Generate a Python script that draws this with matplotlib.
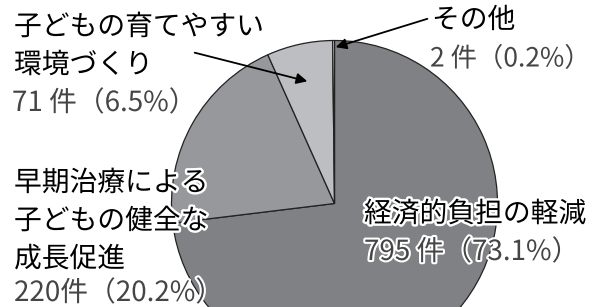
import matplotlib
matplotlib.use("Agg")
import matplotlib.pyplot as plt
import matplotlib.patheffects as pe

plt.rcParams['font.family'] = ['Noto Sans CJK JP', 'DejaVu Sans']

# データ
項目 = ["経済的負担の軽減", "早期治療による\n子どもの健全な\n成長促進", "子どもの育てやすい\n環境づくり", "その他"]
件数 = [795, 220, 71, 2]
割合 = [73.1, 20.2, 6.5, 0.2]
色 = ["#808185", "#97989c", "#bdbec2", "#ececec"]

W, H = 595, 307
fig = plt.figure(figsize=(W / 100, H / 100), dpi=100)
ax = fig.add_axes([0, 0, 1, 1])

# 円グラフ（時計回り、12時スタート）
ax.pie(件数, colors=色, startangle=90, counterclock=False,
       center=(334.5, 103.5), radius=163,
       wedgeprops=dict(edgecolor="#222222", linewidth=0.9))
ax.set_xlim(0, W)
ax.set_ylim(0, H)
ax.set_aspect("equal")
ax.axis("off")

縁 = [pe.withStroke(linewidth=3.5, foreground="white")]
title_kw = dict(fontsize=20, color="black", va="center", ha="left", path_effects=縁)
val_kw = dict(fontsize=20, color="#454545", va="center", ha="left",
              path_effects=[pe.withStroke(linewidth=3, foreground="white")])

def 値(i, sp=" "):
    return f"{件数[i]}{sp}件（{割合[i]}%）"

# 経済的負担の軽減
ax.text(364, H - 214, 項目[0], **title_kw)
ax.text(364, H - 252, 値(0), **val_kw)

# 早期治療
ax.text(14, H - 221, 項目[1], linespacing=1.35, **title_kw)
ax.text(14, H - 293, 値(1, ""), **val_kw)

# 環境づくり
ax.text(14, H - 46, 項目[2], linespacing=1.35, **title_kw)
ax.text(12, H - 103, 値(2), **val_kw)
ax.annotate("", xy=(310, H - 82), xytext=(192, H - 52),
            arrowprops=dict(arrowstyle="-|>", color="black", lw=1.3, mutation_scale=16))

# その他
ax.text(432, H - 20, 項目[3], **title_kw)
val_kw["fontsize"] = 19
ax.text(430, H - 59, 値(3), **val_kw)
ax.annotate("", xy=(333, H - 48), xytext=(430, H - 18),
            arrowprops=dict(arrowstyle="-|>", color="black", lw=1.3, mutation_scale=16))

plt.savefig("out.png", dpi=100)
